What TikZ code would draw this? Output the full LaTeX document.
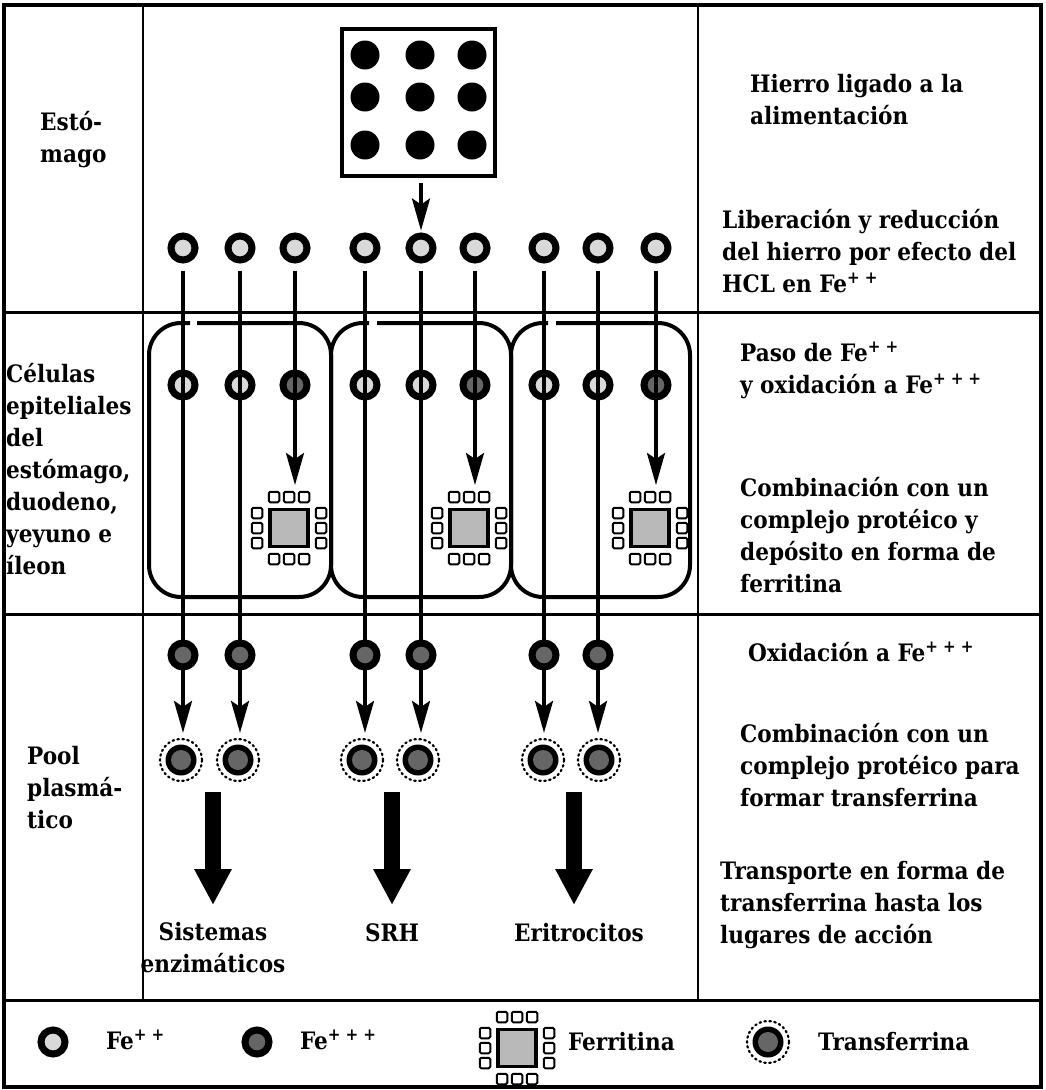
\documentclass[tikz,border=0pt]{standalone}
\usepackage{fontspec}
\setmainfont{DejaVu Serif Condensed Bold}
\usetikzlibrary{arrows.meta,calc}
\pgfdeclarelayer{fg}
\pgfsetlayers{main,fg}
\newcommand\ferritinglyph[3]{%
  \node[fercore] (#1) at (#2,#3) {};
  \coordinate (#1-top) at ($(#1.center)+(0,-37)$);
  \foreach \dx in {-15,0,15} {
    \node[fersq] at ($(#1.center)+(\dx,-31)$) {};
    \node[fersq] at ($(#1.center)+(\dx,31)$) {};
  }
  \foreach \dy in {-15,0,15} {
    \node[fersq] at ($(#1.center)+(-32,\dy)$) {};
    \node[fersq] at ($(#1.center)+(32,\dy)$) {};
  }
}
\newcommand\plustwo{\textsuperscript{+\hspace{0.3em}+}}
\newcommand\plusthree{\textsuperscript{+\hspace{0.3em}+\hspace{0.3em}+}}
\begin{document}
\begin{tikzpicture}[x=1pt,y=-1pt,
  txt/.style={align=left, inner sep=0pt, font=\fontsize{24}{32}\selectfont},
  feII/.style={circle, draw=black, line width=7pt, fill=gray!30, minimum size=24pt, inner sep=0pt},
  feIII/.style={feII, fill=black!60},
  tfnode/.style={circle, minimum size=42pt, inner sep=0pt, draw=black, line width=2.2pt,
     dash pattern=on 1.6pt off 3.4pt, line cap=round,
     path picture={\fill[black] (path picture bounding box.center) circle (15.5pt);
                   \fill[black!60] (path picture bounding box.center) circle (10pt);}},
  fercore/.style={rectangle, draw=black, line width=3.5pt, fill=gray!55, minimum width=38pt, minimum height=37pt, inner sep=0pt},
  fersq/.style={rectangle, draw=black, line width=2pt, fill=white, minimum size=10.5pt, inner sep=0pt, rounded corners=1.5pt},
  arr/.style={line width=3.5pt, -{Stealth[length=32pt,width=18pt,inset=6pt]}},
  bigarr/.style={line width=16pt, -{Triangle[length=36pt,width=35pt]}},
  cellwall/.style={line width=4pt, rounded corners=32pt}]
\useasboundingbox (0,0) rectangle (1045,1090);
% table
\draw[line width=3.5pt] (4,5) rectangle (1041,1087);
\draw[line width=3pt] (4,312) -- (1041,312) (4,614) -- (1041,614) (4,1000) -- (1041,1000);
\draw[line width=2pt] (143,5) -- (143,1000) (698,5) -- (698,1000);
% food box
\node[draw, line width=4pt, minimum width=153pt, minimum height=147pt, inner sep=0pt] (food) at (418.5,102.5) {};
\foreach \x in {365,420,472} \foreach \y in {55,97,145} \fill (\x,\y) circle (14.5);
% cells
\foreach \l/\r/\ga/\gb in {149/331/190/197, 331/511/369/377, 511/690/548/556}
  \draw[cellwall] (\gb,323) -- (\r,323) -- (\r,597) -- (\l,597) -- (\l,323) -- (\ga,323);
% top row
\foreach \i/\x in {1/183,2/240,3/295,4/365,5/421,6/475,7/544,8/598,9/656}
  \node[feII] (t\i) at (\x,248) {};
% cell row
\foreach \i/\x in {1/183,2/240,4/365,5/421,7/544,8/598}
  \node[feII] (c\i) at (\x,385) {};
\foreach \i/\x in {3/295,6/475,9/656}
  \node[feIII] (c\i) at (\x,385) {};
% ferritin
\ferritinglyph{f1}{289}{528}
\ferritinglyph{f2}{469}{528}
\ferritinglyph{f3}{650}{528}
% pool row
\begin{pgfonlayer}{fg}
\foreach \i/\x in {1/183,2/240,4/365,5/421,7/544,8/598}
  \node[feIII] (p\i) at (\x,655) {};
\end{pgfonlayer}
\foreach \i/\x in {1/181,2/238,4/362,5/418,7/543,8/599}
  \node[tfnode] (tf\i) at (\x,760) {};
% connectors
\draw[arr, shorten <=5pt, shorten >=2pt] (food.south -| t5) -- (t5.north);
\foreach \i in {1,2,4,5,7,8}
  \draw[arr, shorten <=7pt, shorten >=5pt] (t\i.south) -- (t\i.south |- tf\i.north);
\foreach \i/\f in {3/f1,6/f2,9/f3}
  \draw[arr, shorten <=7pt, shorten >=6pt] (t\i.south) -- (t\i.south |- \f-top);
% destinations
\node[txt, align=center] (d1) at (213,948) {Sistemas\\enzimáticos};
\node[txt] (d2) at (392,933) {SRH};
\node[txt] (d3) at (579,933) {Eritrocitos};
\coordinate (a1) at (213,792); \coordinate (a2) at (392,792); \coordinate (a3) at (574,792);
\draw[bigarr] (a1) -- (a1 |- 0,905);
\draw[bigarr] (a2) -- (a2 |- 0,905);
\draw[bigarr] (a3) -- (a3 |- 0,905);
% left column
\node[txt, anchor=west] (l1) at (40,140) {Estó-\\mago};
\node[txt, anchor=west] (l2) at (6,469) {Células\\epiteliales\\del\\estómago,\\duodeno,\\yeyuno e\\íleon};
\node[txt, anchor=west] (l3) at (27,788) {Pool\\plasmá-\\tico};
% right column
\node[txt, anchor=west] (r1) at (750,100) {Hierro ligado a la\\alimentación};
\node[txt, anchor=west] (r2) at (722,251) {Liberación y reducción\\del hierro por efecto del\\HCL en Fe\plustwo};
\node[txt, anchor=west] (r3) at (740,370) {Paso de Fe\plustwo\\y oxidación a Fe\plusthree};
\node[txt, anchor=west] (r4) at (740,535) {Combinación con un\\complejo protéico y\\depósito en forma de\\ferritina};
\node[txt, anchor=west] (r5) at (748,652) {Oxidación a Fe\plusthree};
\node[txt, anchor=west] (r6) at (740,765) {Combinación con un\\complejo protéico para\\formar transferrina};
\node[txt, anchor=west] (r7) at (720,905) {Transporte en forma de\\transferrina hasta los\\lugares de acción};
% legend
\node[feII] (lg1) at (53,1042) {};
\node[txt, anchor=west] (lt1) at (106,1040) {Fe\plustwo};
\node[feIII] (lg2) at (257,1042) {};
\node[txt, anchor=west] (lt2) at (300,1040) {Fe\plusthree};
\ferritinglyph{lg3}{517}{1048}
\node[txt, anchor=west] (lt3) at (568,1042) {Ferritina};
\node[tfnode] (lg4) at (768,1042) {};
\node[txt, anchor=west] (lt4) at (818,1042) {Transferrina};
\end{tikzpicture}
\end{document}
